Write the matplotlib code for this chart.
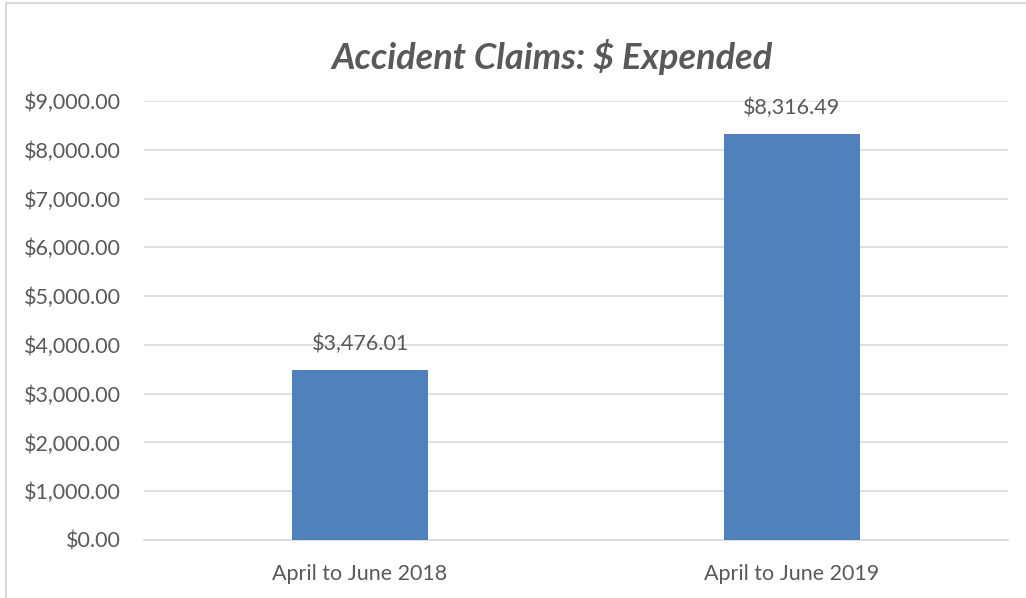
import matplotlib.pyplot as plt
from matplotlib.patches import Rectangle
from matplotlib.ticker import FuncFormatter

categories = ['April to June 2018', 'April to June 2019']
expended = [3476.01, 8316.49]
y_ticks = [0, 1000, 2000, 3000, 4000, 5000, 6000, 7000, 8000, 9000]

text_gray = '#595959'
bar_blue = '#4f81bd'

plt.rcParams['font.family'] = ['Lato', 'DejaVu Sans']

fig = plt.figure(figsize=(10.26, 5.98), dpi=100)
ax = fig.add_axes([0.1404, 0.097, 0.8421, 0.734])

# chart border (cropped at right and bottom)
fig.patches.append(Rectangle((6 / 1026, -0.1), 1.2, 1 - 3 / 598 + 0.1,
                             transform=fig.transFigure, fill=False,
                             edgecolor='#d9d9d9', linewidth=1.5))

x = range(len(categories))
bars = ax.bar(x, expended, width=0.315, color=bar_blue, zorder=3)

for xi, v in zip(x, expended):
    ax.annotate(f'${v:,.2f}', (xi, v), xytext=(0, 12), textcoords='offset points',
                ha='center', va='bottom', fontsize=15.5, color=text_gray)

ax.set_xlim(-0.5, 1.5)
ax.set_ylim(0, 9000)
ax.set_yticks(y_ticks)
ax.yaxis.set_major_formatter(FuncFormatter(lambda v, p: f'${v:,.2f}'))
ax.set_xticks(list(x))
ax.set_xticklabels(categories)
ax.grid(axis='y', color='#d9d9d9', linewidth=1.2, zorder=0)
ax.tick_params(axis='y', length=0, pad=17, labelsize=15.5, labelcolor=text_gray)
ax.tick_params(axis='x', length=0, pad=17, labelsize=15.5, labelcolor=text_gray)
for s in ['top', 'right', 'left']:
    ax.spines[s].set_visible(False)
ax.spines['bottom'].set_color('#d9d9d9')
ax.spines['bottom'].set_linewidth(1.2)

fig.text(0.538, 0.905, 'Accident Claims: $ Expended', ha='center', va='center',
         fontsize=26, fontstyle='italic', fontweight='bold', color=text_gray)

fig.savefig('out.png', dpi=100)
